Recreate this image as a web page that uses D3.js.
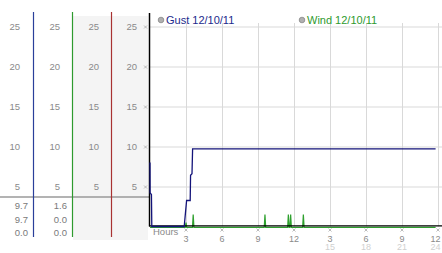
<!DOCTYPE html>
<html><head><meta charset="utf-8">
<script src="https://cdn.jsdelivr.net/npm/d3@7"></script>
<style>
html,body{margin:0;padding:0;background:#fff;}
svg{display:block;font-family:"Liberation Sans",Arial,sans-serif;}
</style></head>
<body>
<svg id="c" width="442" height="253"></svg>
<script>
// ---- data ----
const yTicks = [5, 10, 15, 20, 25];
const xTicks = [3, 6, 9, 12, 15, 18, 21, 24];
const xTickLabels = ["3", "6", "9", "12", "3", "6", "9", "12"];
const xTickLabels2 = ["", "", "", "", "15", "18", "21", "24"];
const gustHours  = [0, 0.01, 0.12, 0.15, 2.85, 3.05, 3.35, 3.38, 3.5, 3.55, 23.8];
const gustValues = [8.0, 4.2, 4.0, 0, 0, 3.25, 3.25, 6.4, 6.6, 9.7, 9.7];
const windHours  = [0, 2.94, 3.0, 3.06, 3.54, 3.6, 3.66, 9.52, 9.58, 9.64, 11.47, 11.53, 11.59, 11.66, 11.72, 11.78, 12.72, 12.78, 12.84, 23.8];
const windValues = [0, 0, 0.6, 0, 0, 1.6, 0, 0, 1.6, 0, 0, 1.6, 0, 0, 1.6, 0, 0, 1.6, 0, 0];
const legendNames = ["Gust 12/10/11", "Wind 12/10/11"];
const readoutGust = ["9.7", "9.7", "0.0"];
const readoutWind = ["1.6", "0.0", "0.0"];

const svg = d3.select("#c");
const x = d3.scaleLinear().domain([0, 24]).range([150, 438]);
const y = d3.scaleLinear().domain([0, 25]).range([226.5, 26.5]);

// left panels background
svg.append("rect").attr("x", 73).attr("y", 16).attr("width", 75).attr("height", 224).attr("fill", "#f4f4f4");

// grid
const g = svg.append("g");
g.selectAll(".hg").data(yTicks).enter().append("line")
  .attr("x1", 150).attr("x2", 442).attr("y1", d => y(d) + 0.5).attr("y2", d => y(d) + 0.5)
  .attr("stroke", "#d9d9d9").attr("stroke-width", 1);
g.selectAll(".vg").data(xTicks).enter().append("line")
  .attr("x1", d => Math.round(x(d)) + 0.5).attr("x2", d => Math.round(x(d)) + 0.5)
  .attr("y1", 23).attr("y2", y(0))
  .attr("stroke", "#d9d9d9").attr("stroke-width", 1);

// left column tick labels
const colRight = [20, 60, 99, 137];
colRight.forEach(cx => {
  svg.selectAll(null).data(yTicks).enter().append("text")
    .attr("x", cx).attr("y", d => y(d) + 3.5)
    .attr("text-anchor", "end").attr("font-size", 9.5).attr("fill", "#8a8a8a")
    .text(d => d);
});
// y tick marks
function mark(sel, cx, cy) {
  sel.append("path").attr("d", `M${cx-1.5},${cy-1.5}L${cx+1.5},${cy+1.5}M${cx+1.5},${cy-1.5}L${cx-1.5},${cy+1.5}`)
    .attr("stroke", "#aaa").attr("stroke-width", 0.8).attr("fill", "none");
}
yTicks.forEach(d => mark(svg, 145.5, y(d) + 0.5));

// separator line
svg.append("line").attr("x1", 0).attr("x2", 149).attr("y1", 197).attr("y2", 197)
  .attr("stroke", "#9a9a9a").attr("stroke-width", 1.5);

// colored column lines
[[33.5, "#2a3f9a"], [72.5, "#2e9a2e"], [111.5, "#a83232"]].forEach(([lx, c]) => {
  svg.append("line").attr("x1", lx).attr("x2", lx).attr("y1", 12).attr("y2", 237)
    .attr("stroke", c).attr("stroke-width", 1.2);
});

// readouts
const ry = [205, 219, 232.5];
svg.selectAll(null).data(readoutGust).enter().append("text")
  .attr("x", 28).attr("y", (d, i) => ry[i] + 3.5).attr("text-anchor", "end")
  .attr("font-size", 9.5).attr("fill", "#7a7a7a").text(d => d);
svg.selectAll(null).data(readoutWind).enter().append("text")
  .attr("x", 67).attr("y", (d, i) => ry[i] + 3.5).attr("text-anchor", "end")
  .attr("font-size", 9.5).attr("fill", "#7a7a7a").text(d => d);

// series
const line = d3.line().x(d => x(d[0])).y(d => y(d[1]));
svg.append("path").datum(windHours.map((h, i) => [h, windValues[i]]))
  .attr("d", line).attr("fill", "none").attr("stroke", "#2ea02e").attr("stroke-width", 1.2)
  .attr("transform", "translate(0,0.8)");

// axes
svg.append("line").attr("x1", 149.5).attr("x2", 149.5).attr("y1", 13).attr("y2", y(0))
  .attr("stroke", "#000").attr("stroke-width", 1.5);
svg.append("line").attr("x1", 149).attr("x2", 442).attr("y1", y(0) - 0.6).attr("y2", y(0) - 0.6)
  .attr("stroke", "#000").attr("stroke-width", 1.3);

svg.append("path").datum(gustHours.map((h, i) => [h, gustValues[i]]))
  .attr("d", line).attr("fill", "none").attr("stroke", "#14147a").attr("stroke-width", 1.3);

// x tick marks & labels
xTicks.forEach(d => mark(svg, x(d), 230));
svg.selectAll(null).data(xTicks).enter().append("text")
  .attr("x", d => Math.min(x(d), 435.5)).attr("y", 241.5).attr("text-anchor", "middle")
  .attr("font-size", 9).attr("fill", "#8a8a8a").text((d, i) => xTickLabels[i]);
svg.selectAll(null).data(xTicks).enter().append("text")
  .attr("x", d => Math.min(x(d), 435.5)).attr("y", 250).attr("text-anchor", "middle")
  .attr("font-size", 9).attr("fill", "#d0d0d0").text((d, i) => xTickLabels2[i]);
svg.append("text").attr("x", 153).attr("y", 235).attr("font-size", 9.5).attr("fill", "#8a8a8a").text("Hours");

// legend
const legX = [161, 302], legC = ["#1c2a8c", "#2e9a2e"];
legendNames.forEach((n, i) => {
  svg.append("circle").attr("cx", legX[i]).attr("cy", 20).attr("r", 2.8)
    .attr("fill", "#b0b0b0").attr("stroke", "#888").attr("stroke-width", 0.8);
  svg.append("text").attr("x", legX[i] + 5).attr("y", 24).attr("font-size", 11)
    .attr("fill", legC[i]).text(n);
});
</script>
</body></html>
